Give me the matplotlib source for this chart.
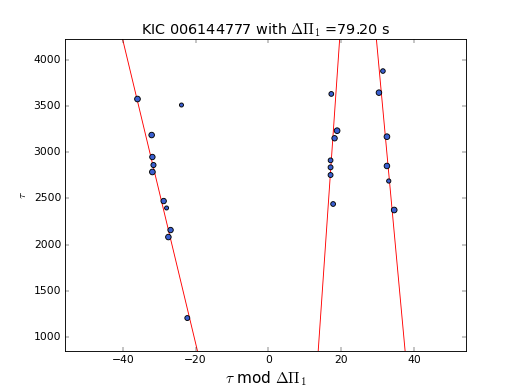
import matplotlib
matplotlib.use('Agg')
import matplotlib.pyplot as plt

plt.style.use('classic')

# echelle-style points: tau mod dPi1 vs tau
x_mod = [-36.0, -23.9, -32.1, -31.9, -31.6, -31.9, -28.8, -28.0, -26.9, -27.5, -22.3,
         17.3, 18.9, 18.2, 17.1, 17.1, 17.1, 17.8,
         31.5, 30.4, 32.6, 32.6, 33.1, 34.6]
tau = [3577, 3512, 3187, 2949, 2862, 2787, 2472, 2397, 2158, 2082, 1205,
       3632, 3234, 3152, 2913, 2837, 2754, 2440,
       3880, 3646, 3169, 2852, 2689, 2375]
sizes = [40, 20, 38, 36, 32, 40, 36, 20, 36, 38, 30,
         28, 40, 36, 28, 30, 30, 28,
         26, 38, 40, 38, 22, 40]

# fitted lines, two (x, tau) ends each
line_x = [[-40.1, -19.5], [19.6, 13.7], [29.7, 37.6]]
line_tau = [[4227, 848], [4227, 848], [4227, 848]]

dpi = 64.75
fig = plt.figure(figsize=(518 / dpi, 390 / dpi), dpi=dpi)
ax = fig.add_subplot(111)

for lx, lt in zip(line_x, line_tau):
    ax.plot(lx, lt, color='r', lw=1.0)
ax.scatter(x_mod, tau, s=sizes, c='#3a5fd0', edgecolors='k', zorder=3)

ax.set_xlim(-56, 54.4)
ax.set_ylim(848, 4227)
ax.set_xlabel(r'$\tau$ mod $\Delta\Pi_1$', fontsize=17)
ax.set_ylabel(r'$\tau$', fontsize=13)
ax.set_title(r'KIC 006144777 with $\Delta\Pi_1$ =79.20 s', fontsize=16)

fig.savefig('out.png', dpi=dpi)
